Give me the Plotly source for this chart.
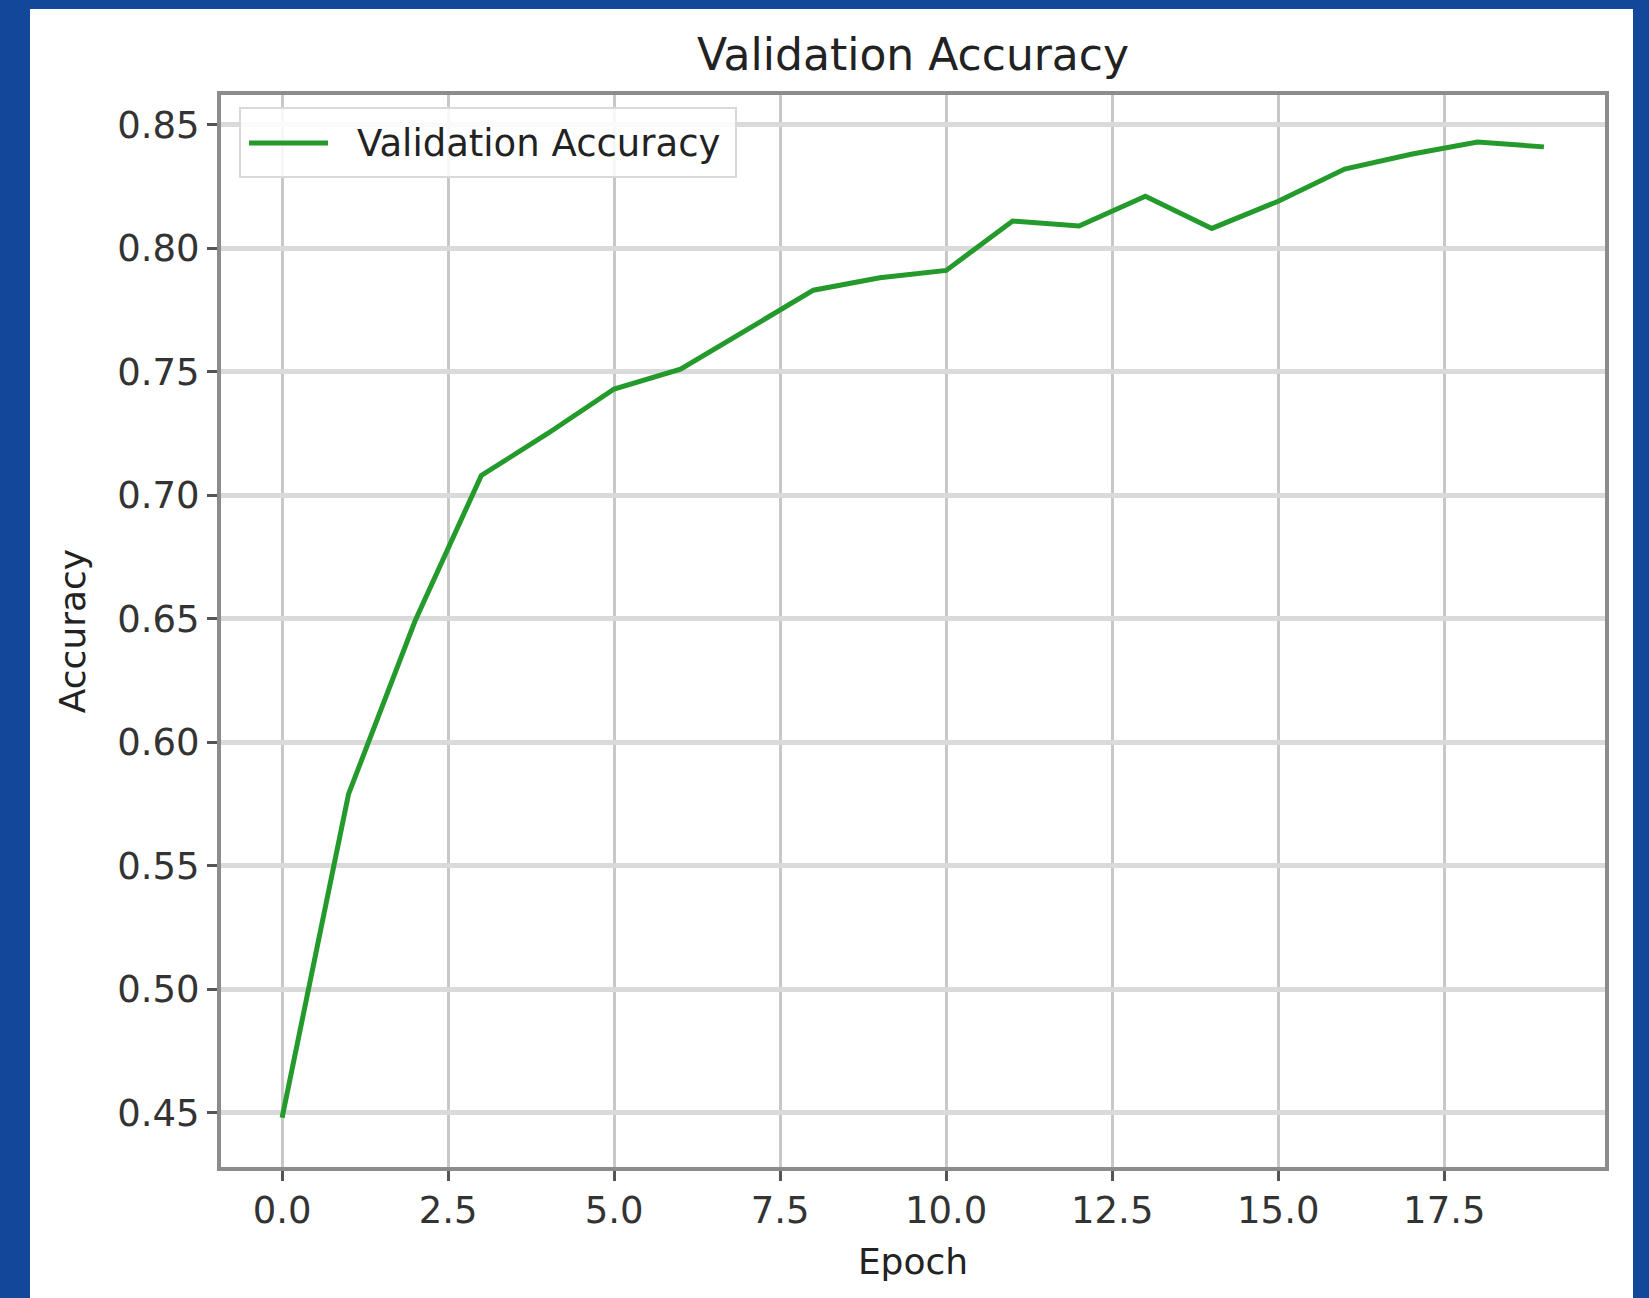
import plotly.graph_objects as go

# Per-epoch validation accuracy
epochs = list(range(20))
val_accuracy = [0.448, 0.579, 0.649, 0.708, 0.725, 0.743, 0.751, 0.767, 0.783, 0.788,
                0.791, 0.811, 0.809, 0.821, 0.808, 0.819, 0.832, 0.838, 0.843, 0.841]

x_ticks = [0.0, 2.5, 5.0, 7.5, 10.0, 12.5, 15.0, 17.5]
y_ticks = [0.45, 0.50, 0.55, 0.60, 0.65, 0.70, 0.75, 0.80, 0.85]

series_name = "Validation Accuracy"
LINE_COLOR = "#239a2b"
FONT = "DejaVu Sans"
W, H = 1649, 1298
L, R, T, B = 221, 44, 95, 131
pw, ph = W - L - R, H - T - B


def px_x(p):
    """Page pixel column -> paper x."""
    return (p - L) / pw


def px_y(p):
    """Page pixel row -> paper y."""
    return (H - B - p) / ph


fig = go.Figure()
fig.add_trace(go.Scatter(
    x=epochs, y=val_accuracy, mode="lines", name=series_name,
    line=dict(color=LINE_COLOR, width=5), showlegend=False,
))

# white card on the blue page
fig.add_shape(type="rect", xref="paper", yref="paper", layer="below",
              x0=px_x(30), x1=px_x(1633), y0=px_y(H), y1=px_y(9),
              fillcolor="white", line=dict(width=0))

# legend box, sample line and label
fig.add_shape(type="rect", xref="paper", yref="paper",
              x0=px_x(240), x1=px_x(736), y0=px_y(177), y1=px_y(108),
              fillcolor="rgba(255,255,255,0.85)", line=dict(color="#d9d9d9", width=2))
fig.add_shape(type="line", xref="paper", yref="paper",
              x0=px_x(249), x1=px_x(328), y0=px_y(143), y1=px_y(143),
              line=dict(color=LINE_COLOR, width=5))
fig.add_annotation(text=series_name, xref="paper", yref="paper",
                   x=px_x(355), y=px_y(143), xanchor="left", yanchor="middle",
                   showarrow=False, font=dict(family=FONT, size=37, color="#222"))

axis_common = dict(
    showline=True, mirror=True, linecolor="#8c8c8c", linewidth=4,
    ticks="outside", ticklen=10, tickwidth=3, tickcolor="#555",
    tickfont=dict(family=FONT, size=37, color="#333"),
    zeroline=False,
)

fig.update_layout(
    width=W, height=H,
    margin=dict(l=L, r=R, t=T, b=B),
    paper_bgcolor="#12479a", plot_bgcolor="white",
    font=dict(family=FONT, color="#222"),
    title=dict(text="Validation Accuracy", x=0.5, xref="paper", xanchor="center",
               y=1 - 55 / H, yref="container", yanchor="middle",
               font=dict(family=FONT, size=44, color="#222")),
    xaxis=dict(range=[-0.92, 19.92], tickvals=x_ticks,
               ticktext=[f"{v:.1f}" for v in x_ticks],
               showgrid=True, gridcolor="#c8c8c8", gridwidth=3,
               ticklabelstandoff=-2,
               title=dict(text="Epoch", font=dict(family=FONT, size=36, color="#222"),
                          standoff=18),
               **axis_common),
    yaxis=dict(range=[0.4281, 0.8620], tickvals=y_ticks,
               ticktext=[f"{v:.2f}" for v in y_ticks],
               showgrid=True, gridcolor="#dadada", gridwidth=5,
               title=dict(text="Accuracy", font=dict(family=FONT, size=36, color="#222"),
                          standoff=22),
               **axis_common),
    showlegend=False,
)

fig.write_html("out.html")
